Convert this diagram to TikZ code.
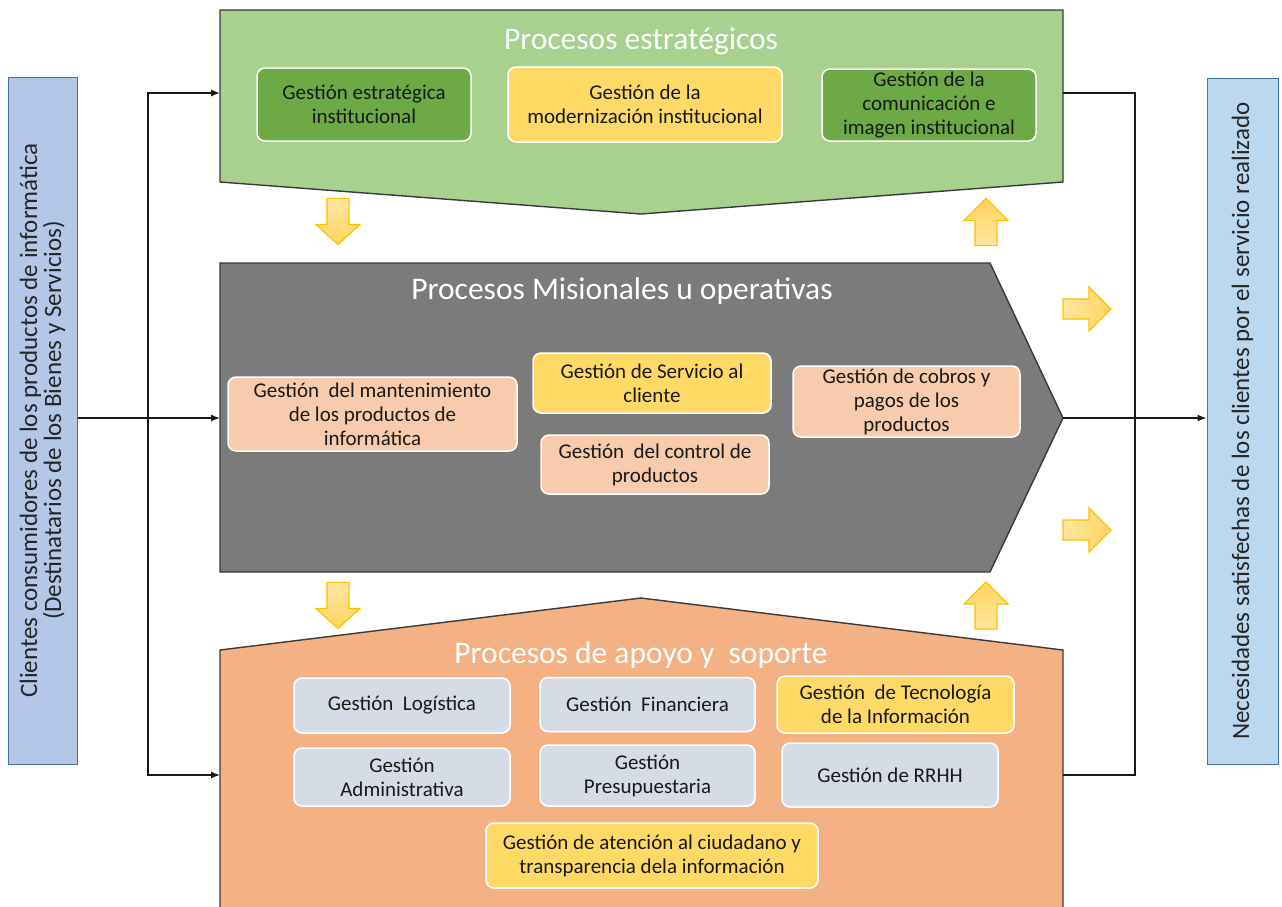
\documentclass[tikz,border=0pt]{standalone}
\usepackage{fontspec}
\setmainfont{Carlito}
\usetikzlibrary{arrows.meta}
\definecolor{estbg}{HTML}{A9D18E}
\definecolor{estbox}{HTML}{6DAA45}
\definecolor{misbg}{HTML}{7B7B7B}
\definecolor{apobg}{HTML}{F4B183}
\definecolor{yelbox}{HTML}{FFD966}
\definecolor{peachbox}{HTML}{F8CBAD}
\definecolor{graybox}{HTML}{D6DCE5}
\definecolor{leftbar}{HTML}{B4C7E7}
\definecolor{rightbar}{HTML}{BDD7EE}
\definecolor{baredge}{HTML}{41719C}
\definecolor{shapeedge}{HTML}{3A3A3A}
\definecolor{arrlight}{HTML}{FFE7A3}
\definecolor{arrdark}{HTML}{FFD45E}
\definecolor{arredge}{HTML}{FFC000}
\tikzset{
  procshape/.style={draw=shapeedge, line width=1.4},
  proctitle/.style={text=white, font=\fontsize{31.5}{36}\selectfont},
  pbox/.style={draw=white, line width=1.5, rounded corners=8, align=center,
    inner sep=2, text=black!90, font=\fontsize{21}{24}\selectfont},
  sidebar/.style={draw=baredge, line width=1},
  sidetext/.style={rotate=90, align=center, text=black!85, font=\fontsize{25}{24}\selectfont},
  flow/.style={line width=1.3, draw=black!90},
  flowarr/.style={flow, -{Latex[length=9pt,width=7pt]}},
  arrfill/.style={draw=arredge, line width=1.2},
  blkdown/.pic={\path[arrfill, top color=arrlight, bottom color=arrdark]
    (-11,-23) -- (11,-23) -- (11,3) -- (22,3) -- (0,23) -- (-22,3) -- (-11,3) -- cycle;},
  blkup/.pic={\path[arrfill, top color=arrdark, bottom color=arrlight]
    (-11,23) -- (11,23) -- (11,-2) -- (22,-2) -- (0,-24) -- (-22,-2) -- (-11,-2) -- cycle;},
  blkright/.pic={\path[arrfill, left color=arrlight, right color=arrdark]
    (-24,-10) -- (2,-10) -- (2,-22) -- (24,0) -- (2,22) -- (2,10) -- (-24,10) -- cycle;},
}
\begin{document}
\begin{tikzpicture}[x=1pt,y=-1pt]
\useasboundingbox[fill=white] (0,0) rectangle (1282,906);

% process bands
\path[procshape, fill=estbg] (220,10) -- (1063,10) -- (1063,182) -- (641,214) -- (220,182) -- cycle;
\path[procshape, fill=misbg] (220,263) -- (990,263) -- (1063,418) -- (990,572) -- (220,572) -- cycle;
\path[procshape, fill=apobg] (220,912) -- (220,650) -- (641,598) -- (1063,650) -- (1063,912) -- cycle;

\node[proctitle] (tEst) at (641,41) {Procesos estratégicos};
\node[proctitle] (tMis) at (622,291) {Procesos Misionales u operativas};
\node[proctitle] (tApo) at (641,655) {Procesos de apoyo y\ \ soporte};

% strategic processes
\node[pbox, fill=estbox, minimum width=214, minimum height=73] (e1) at (364,104.5) {Gestión estratégica\\institucional};
\node[pbox, fill=yelbox, minimum width=274, minimum height=75] (e2) at (645,104.5) {Gestión de la\\modernización institucional};
\node[pbox, fill=estbox, minimum width=214, minimum height=72] (e3) at (929,105) {Gestión de la\\comunicación e\\imagen institucional};

% core processes
\node[pbox, fill=peachbox, minimum width=289, minimum height=74] (m1) at (372.5,414) {Gestión\ \ del mantenimiento\\de los productos de\\informática};
\node[pbox, fill=yelbox, minimum width=238, minimum height=60] (m2) at (652,383) {Gestión de Servicio al\\cliente};
\node[pbox, fill=peachbox, minimum width=228, minimum height=59] (m3) at (655,464.5) {Gestión\ \ del control de\\productos};
\node[pbox, fill=peachbox, minimum width=227, minimum height=71] (m4) at (906.5,401.5) {Gestión de cobros y\\pagos de los\\productos};

% support processes
\node[pbox, fill=graybox, minimum width=216, minimum height=55] (a1) at (402,705.5) {Gestión\ \ Logística};
\node[pbox, fill=graybox, minimum width=215, minimum height=54] (a2) at (647.5,704.5) {Gestión\ \ Financiera};
\node[pbox, fill=yelbox, minimum width=237, minimum height=57] (a3) at (895.5,704.5) {Gestión\ \ de Tecnología\\de la Información};
\node[pbox, fill=graybox, minimum width=216, minimum height=58] (a4) at (402,777) {Gestión\\Administrativa};
\node[pbox, fill=graybox, minimum width=215, minimum height=61] (a5) at (647.5,775.5) {Gestión\\Presupuestaria};
\node[pbox, fill=graybox, minimum width=216, minimum height=64] (a6) at (890,775) {Gestión de RRHH};
\node[pbox, fill=yelbox, minimum width=332, minimum height=65] (a7) at (652,855.5) {Gestión de atención al ciudadano y\\transparencia dela información};

% side bars
\node[sidebar, fill=leftbar, minimum width=69, minimum height=687, inner sep=0] (cli) at (42.5,420.5) {};
\node[sidetext] (cliT) at (cli.center) {Clientes consumidores de los productos de informática\\(Destinatarios de los Bienes y Servicios)};
\node[sidebar, fill=rightbar, minimum width=71, minimum height=686, inner sep=0] (nec) at (1242.5,421) {};
\node[sidetext] (necT) at (nec.center) {Necesidades satisfechas de los clientes por el servicio realizado};

% connection points on the bands
\coordinate (estL) at (220,93);
\coordinate (misL) at (220,418);
\coordinate (apoL) at (220,775);
\coordinate (estR) at (1063,93);
\coordinate (misR) at (1063,418);
\coordinate (apoR) at (1063,775);
\coordinate (jL) at (148,418);
\coordinate (jR) at (1135,418);

% connectors
\draw[flowarr] (cli.east |- misL) -- (misL);
\draw[flowarr] (jL) |- (estL);
\draw[flowarr] (jL) |- (apoL);
\draw[flow] (estR) -| (jR);
\draw[flow] (apoR) -| (jR);
\draw[flowarr] (misR) -- (nec.west |- misR);

% interaction arrows
\pic at (338,221.5) {blkdown};
\pic at (986,222.5) {blkup};
\pic at (338,605.5) {blkdown};
\pic at (986,606) {blkup};
\pic at (1087,309) {blkright};
\pic at (1087,530) {blkright};
\end{tikzpicture}
\end{document}
